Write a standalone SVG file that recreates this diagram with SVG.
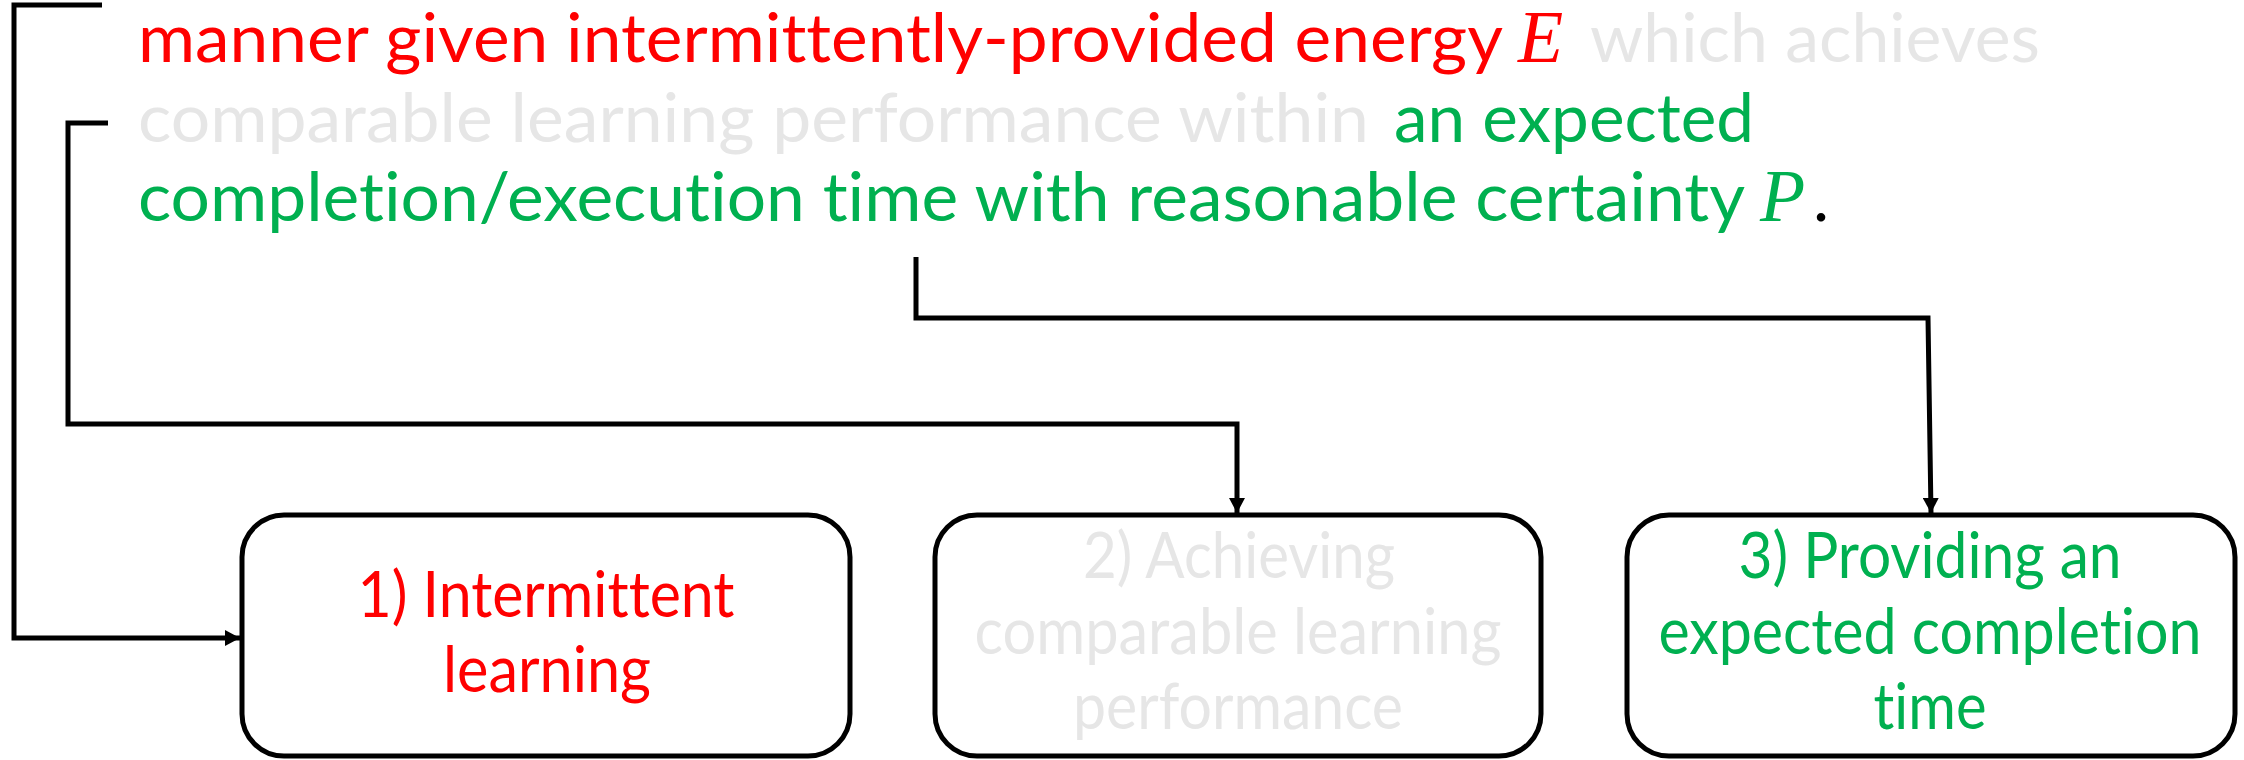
<svg xmlns="http://www.w3.org/2000/svg" width="2244" height="760" viewBox="0 0 2244 760">
  <defs>
    <marker id="arrow" viewBox="0 0 15 16" refX="15" refY="8" markerWidth="15" markerHeight="16" markerUnits="userSpaceOnUse" orient="auto">
      <path d="M0,0 L15,8 L0,16 Z" fill="#000"/>
    </marker>
    <style>
      text { font-variant-ligatures: none; font-feature-settings: "liga" 0, "clig" 0; }
      .t { font-family: Lato, "Liberation Sans", sans-serif; font-size: 68px; }
      .m { font-family: "Liberation Serif", serif; font-style: italic; font-size: 74px; }
      .b { font-family: Lato, "Liberation Sans", sans-serif; font-size: 63px; text-anchor: middle; }
      .red { fill: #FF0000; }
      .grey { fill: #E6E6E6; }
      .green { fill: #00B050; }
      .box { fill: #FFFFFF; stroke: #000; stroke-width: 5; }
      .wire { fill: none; stroke: #000; stroke-width: 5; stroke-linejoin: miter; }
    </style>
  </defs>
  <rect width="2244" height="760" fill="#FFFFFF"/>

  <!-- sentence fragment -->
  <g id="sentence">
    <text class="t red" x="138" y="62" textLength="1365" lengthAdjust="spacingAndGlyphs">manner given intermittently-provided energy</text>
    <text class="m red" x="1518" y="62">E</text>
    <text class="t grey" x="1590" y="62" textLength="450" lengthAdjust="spacingAndGlyphs">which achieves</text>
    <text class="t grey" x="138" y="142" textLength="1231" lengthAdjust="spacingAndGlyphs">comparable learning performance within</text>
    <text class="t green" x="1394" y="142" textLength="360" lengthAdjust="spacingAndGlyphs">an expected</text>
    <text class="t green" x="138" y="221" textLength="1607" lengthAdjust="spacingAndGlyphs">completion/execution time with reasonable certainty</text>
    <text class="m green" x="1760" y="221">P</text>
    <text class="t" x="1813" y="221" fill="#000">.</text>
  </g>

  <!-- connectors -->
  <g id="connectors">
    <path class="wire" d="M102,5 H14 V638 H240" marker-end="url(#arrow)"/>
    <path class="wire" d="M108,123 H68 V424 H1237 V513" marker-end="url(#arrow)"/>
    <path class="wire" d="M916,257 V318 H1928 L1931,513" marker-end="url(#arrow)"/>
  </g>

  <g id="node1">
    <rect class="box" x="242" y="515" width="608" height="241" rx="42" ry="42"/>
    <text class="b red" x="546" y="617" textLength="377" lengthAdjust="spacingAndGlyphs">1) Intermittent</text>
    <text class="b red" x="547" y="692" textLength="208" lengthAdjust="spacingAndGlyphs">learning</text>
  </g>

  <g id="node2">
    <rect class="box" x="935" y="515" width="606" height="241" rx="42" ry="42"/>
    <text class="b grey" x="1239" y="578" textLength="312" lengthAdjust="spacingAndGlyphs">2) Achieving</text>
    <text class="b grey" x="1238" y="654" textLength="527" lengthAdjust="spacingAndGlyphs">comparable learning</text>
    <text class="b grey" x="1238" y="729" textLength="330" lengthAdjust="spacingAndGlyphs">performance</text>
  </g>

  <g id="node3">
    <rect class="box" x="1627" y="515" width="608" height="241" rx="42" ry="42"/>
    <text class="b green" x="1930" y="578" textLength="383" lengthAdjust="spacingAndGlyphs">3) Providing an</text>
    <text class="b green" x="1930" y="654" textLength="543" lengthAdjust="spacingAndGlyphs">expected completion</text>
    <text class="b green" x="1930" y="729" textLength="113" lengthAdjust="spacingAndGlyphs">time</text>
  </g>
</svg>
